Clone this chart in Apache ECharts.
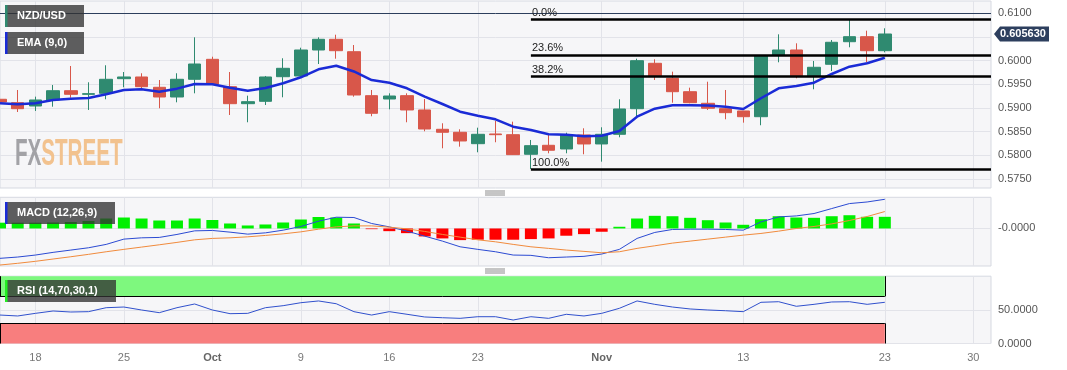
<!DOCTYPE html>
<html><head><meta charset="utf-8">
<script src="https://cdn.jsdelivr.net/npm/echarts@6/dist/echarts.min.js"></script>
<style>html,body{margin:0;padding:0;background:#fff}#c{width:1067px;height:370px}</style>
</head><body><div id="c"></div>
<script>
// ---- data ----
const dates = ['2023-09-14','2023-09-15','2023-09-18','2023-09-19','2023-09-20','2023-09-21','2023-09-22','2023-09-25','2023-09-26','2023-09-27','2023-09-28','2023-09-29',
'2023-10-02','2023-10-03','2023-10-04','2023-10-05','2023-10-06','2023-10-09','2023-10-10','2023-10-11','2023-10-12','2023-10-13','2023-10-16','2023-10-17','2023-10-18','2023-10-19','2023-10-20','2023-10-23','2023-10-24','2023-10-25','2023-10-26','2023-10-27','2023-10-30','2023-10-31',
'2023-11-01','2023-11-02','2023-11-03','2023-11-06','2023-11-07','2023-11-08','2023-11-09','2023-11-10','2023-11-13','2023-11-14','2023-11-15','2023-11-16','2023-11-17','2023-11-20','2023-11-21','2023-11-22','2023-11-23','2023-11-24','2023-11-27','2023-11-28','2023-11-29','2023-11-30','2023-12-01'];
// [open, close, low, high]
const candles = [
[0.59184,0.59127,0.59085,0.59450],[0.59112,0.58985,0.58915,0.59380],[0.59042,0.59169,0.58937,0.59239],[0.59169,0.59365,0.59027,0.59486],
[0.59365,0.59289,0.59217,0.59887],[0.59289,0.59302,0.58958,0.59543],[0.59310,0.59606,0.59184,0.59902],[0.59619,0.59655,0.59437,0.59760],
[0.59655,0.59450,0.59395,0.59733],[0.59437,0.59232,0.58994,0.59591],[0.59232,0.59606,0.59120,0.59733],[0.59606,0.59929,0.59310,0.60493],
[0.60028,0.59500,0.59486,0.60083],[0.59450,0.59091,0.58852,0.59760],[0.59091,0.59133,0.58698,0.59260],[0.59141,0.59655,0.59063,0.59676],
[0.59661,0.59838,0.59226,0.60050],[0.59676,0.60225,0.59669,0.60273],[0.60225,0.60451,0.59929,0.60493],[0.60451,0.60210,0.60041,0.60548],
[0.60189,0.59274,0.59239,0.60330],[0.59260,0.58888,0.58825,0.59380],[0.59190,0.59253,0.58972,0.59310],[0.59260,0.58958,0.58698,0.59310],
[0.58958,0.58556,0.58508,0.59190],[0.58550,0.58487,0.58149,0.58677],[0.58487,0.58303,0.58183,0.58550],[0.58246,0.58444,0.58064,0.58584],
[0.58451,0.58436,0.58276,0.58725],[0.58436,0.58014,0.58007,0.58711],[0.58022,0.58204,0.57711,0.58324],[0.58212,0.58107,0.58043,0.58430],
[0.58134,0.58430,0.58043,0.58478],[0.58430,0.58240,0.58022,0.58571],[0.58240,0.58444,0.57866,0.58592],[0.58444,0.58979,0.58381,0.59184],
[0.58985,0.59999,0.58816,0.60041],[0.59944,0.59676,0.59591,0.60028],[0.59627,0.59344,0.59112,0.59767],[0.59344,0.59112,0.59099,0.59429],
[0.59099,0.58994,0.58958,0.59555],[0.58985,0.58901,0.58761,0.59380],[0.58937,0.58816,0.58690,0.58937],[0.58816,0.60105,0.58635,0.60105],
[0.60119,0.60225,0.59965,0.60556],[0.60225,0.59676,0.59627,0.60366],[0.59676,0.59860,0.59395,0.59993],[0.59923,0.60388,0.59781,0.60436],
[0.60400,0.60506,0.60282,0.60865],[0.60506,0.60210,0.59965,0.60633],[0.60210,0.60563,0.60176,0.60683]];
const ema9 = [0.59099,0.59078,0.59099,0.59169,0.59196,0.59211,0.59289,0.59380,0.59395,0.59344,
0.59408,0.59507,0.59500,0.59429,0.59365,0.59422,0.59522,0.59648,0.59817,0.59893,
0.59771,0.59591,0.59534,0.59416,0.59239,0.59084,0.58922,0.58837,0.58761,0.58605,
0.58535,0.58444,0.58436,0.58402,0.58415,0.58514,0.58816,0.58985,0.59057,0.59057,
0.59053,0.59027,0.58979,0.59205,0.59416,0.59465,0.59534,0.59718,0.59872,0.59944,0.60062];
const macdLine = [-0.0030,-0.00287,-0.00267,-0.0024,-0.00217,-0.00194,-0.0016,-0.00107,-0.00094,-0.0009,
-0.0006,-0.00024,-0.0002,-0.00037,-0.00057,-0.00044,-0.00017,0.0002,0.00073,0.00113,
0.0011,0.0005,0.00016,-0.00027,-0.00077,-0.00127,-0.00184,-0.0021,-0.00234,-0.00267,
-0.0027,-0.00294,-0.00287,-0.0028,-0.00257,-0.0021,-0.001,-0.0004,-0.0001,-0.00007,
-0.00007,-0.0001,-0.00017,0.00066,0.00116,0.00126,0.0015,0.002,0.0025,0.00266,0.00293];
const signalLine = [-0.00367,-0.0035,-0.0033,-0.00307,-0.00284,-0.0026,-0.00234,-0.0021,-0.00187,-0.00164,
-0.0014,-0.00114,-0.001,-0.00094,-0.00084,-0.0007,-0.00054,-0.00034,-0.00007,0.00016,
0.00026,0.00026,0.00013,-0.00004,-0.0003,-0.0006,-0.00087,-0.00114,-0.00134,-0.0016,
-0.00184,-0.002,-0.00217,-0.0023,-0.00244,-0.00234,-0.002,-0.00174,-0.00147,-0.00127,
-0.00107,-0.00087,-0.00067,-0.0005,-0.00027,0,0.0002,0.00046,0.0008,0.0012,0.0017];
const macdHist = [0.00058,0.00058,0.00058,0.0006,0.00065,0.00075,0.001,0.0011,0.001,0.0008,
0.0008,0.001,0.00085,0.0005,0.0003,0.0004,0.0006,0.0009,0.00115,0.0011,
0.0005,-0.00007,-0.00027,-0.00047,-0.0008,-0.001,-0.00117,-0.00113,-0.00113,-0.00113,
-0.00107,-0.001,-0.00073,-0.00057,-0.00033,0.00017,0.001,0.00127,0.00123,0.00107,
0.00083,0.0006,0.00037,0.00093,0.00123,0.0011,0.00107,0.00123,0.00133,0.00117,0.00117];
const rsi14 = [42.3,40.9,44.8,48.3,46.8,47.3,53.2,54.2,49.8,45.8,
53.2,58.7,49.8,44.3,44.8,53.2,56.2,60.6,63.2,59.1,
47.3,42.3,47.3,43.4,39.4,38.3,37.4,39.8,39.8,34.9,
39.8,37.4,43.4,40.9,44.8,52.3,63.2,58.2,54.2,51.3,
49.8,48.7,47.3,61.2,62.1,55.3,58.2,61.7,62.1,58.2,61.2];
const priceTicks = [0.575,0.580,0.585,0.590,0.595,0.600,0.605,0.610];
const macdTicks = [0];
const macdTickLabels = ['-0.0000'];
const rsiTicks = [0,50];
const xTickDates = ['2023-09-18','2023-09-25','2023-10-02','2023-10-09','2023-10-16','2023-10-23','2023-11-01','2023-11-13','2023-11-23','2023-11-30'];
const xTickLabels = ['18','25','Oct','9','16','23','Nov','13','23','30'];
const lastPrice = 0.60563;
const fibHigh = 0.60865, fibLow = 0.57711, fibStart = '2023-10-26';
const fibRatios = [0, 0.236, 0.382, 1];
const fibLabels = ['0.0%','23.6%','38.2%','100.0%'];
const rsiUpper = 70, rsiLower = 30;

// ---- chart ----
const UP = '#2f8a70', DOWN = '#d8574a';
const FONT = 'Liberation Sans, Arial, sans-serif';
const chart = echarts.init(document.getElementById('c'), null, {renderer: 'canvas'});
const gridBase = {left: 0, right: 76, show: true, backgroundColor: '#f6f6f8', borderColor: '#d6d9e1', borderWidth: 1};
const isTick = (i, v) => xTickDates.indexOf(v) >= 0;
function xAxisFor(gi, showLabels) {
  return {
    type: 'category', gridIndex: gi, data: dates, boundaryGap: false,
    axisLine: {show: false}, axisTick: {show: false},
    axisLabel: {
      show: showLabels, interval: isTick, color: '#777', fontSize: 11, margin: 9, fontFamily: FONT,
      formatter: v => { const t = xTickLabels[xTickDates.indexOf(v)]; return /[A-Za-z]/.test(t) ? '{b|' + t + '}' : t; },
      rich: {b: {fontWeight: 'bold', color: '#666', fontSize: 11, fontFamily: FONT}}
    },
    splitLine: {show: true, interval: isTick, lineStyle: {color: '#e2e3e9', width: 1}}
  };
}
function yAxisFor(gi, min, max, ticks, fmt) {
  return {
    type: 'value', gridIndex: gi, position: 'right', min, max, scale: true,
    axisLine: {show: false}, axisTick: {show: false, customValues: ticks},
    axisLabel: {customValues: ticks, formatter: fmt, color: '#555', fontSize: 11, margin: 7, fontFamily: FONT},
    splitLine: {show: true, lineStyle: {color: '#e2e3e9', width: 1}}
  };
}
const lastDate = dates[dates.length - 1];
const fibMarks = fibRatios.map((r, k) => {
  const lvl = fibHigh - (fibHigh - fibLow) * r;
  return [{coord: [fibStart, lvl], label: {formatter: fibLabels[k]}}, {coord: [lastDate, lvl]}];
});
const lastCandle = dates[candles.length - 1];
const firstDate = dates[0];
const seg = (x1, y1, x2, y2) => [{coord: [x1, y1]}, {coord: [x2, y2]}];

const option = {
  animation: false,
  grid: [
    Object.assign({top: 1, height: 187}, gridBase),
    Object.assign({top: 197.3, height: 68.7}, gridBase),
    Object.assign({top: 276.2, height: 67.3}, gridBase)
  ],
  xAxis: [xAxisFor(0, false), xAxisFor(1, false), xAxisFor(2, true)],
  yAxis: [
    yAxisFor(0, 0.573097, 0.612598, priceTicks, v => v.toFixed(4)),
    yAxisFor(1, -0.00377, 0.00313, macdTicks, v => { const k = macdTicks.indexOf(v); return k >= 0 ? macdTickLabels[k] : v.toFixed(4); }),
    yAxisFor(2, 0, 100, rsiTicks, v => v.toFixed(4))
  ],
  series: [
    {
      type: 'candlestick', xAxisIndex: 0, yAxisIndex: 0, data: candles, barWidth: 13, z: 2,
      itemStyle: {color: UP, color0: DOWN, borderColor: UP, borderColor0: DOWN, borderWidth: 1},
      markLine: {
        silent: true, symbol: 'none', animation: false,
        label: {position: 'insideStartTop', distance: [1, 1], color: '#222', fontSize: 11, fontFamily: FONT},
        lineStyle: {color: '#000', width: 2.5, type: 'solid'},
        data: [{yAxis: lastPrice, label: {show: false}, lineStyle: {color: '#2c3e5c', width: 1, type: 'solid'}}].concat(fibMarks)
      }
    },
    {type: 'line', xAxisIndex: 0, yAxisIndex: 0, data: ema9, showSymbol: false, z: 3,
      lineStyle: {color: '#1a2bd6', width: 2.5}, itemStyle: {color: '#1a2bd6'}},
    {type: 'bar', xAxisIndex: 1, yAxisIndex: 1, data: macdHist, barWidth: 12,
      itemStyle: {color: p => p.value >= 0 ? '#00f000' : '#ff0000'}},
    {type: 'line', xAxisIndex: 1, yAxisIndex: 1, data: macdLine, showSymbol: false,
      lineStyle: {color: '#2b4ad2', width: 1}, itemStyle: {color: '#2b4ad2'}},
    {type: 'line', xAxisIndex: 1, yAxisIndex: 1, data: signalLine, showSymbol: false,
      lineStyle: {color: '#f08a3c', width: 1}, itemStyle: {color: '#f08a3c'}},
    {type: 'line', xAxisIndex: 2, yAxisIndex: 2, data: rsi14, showSymbol: false, z: 3,
      lineStyle: {color: '#3050cc', width: 1}, itemStyle: {color: '#3050cc'},
      markArea: {
        silent: true,
        data: [
          [{xAxis: firstDate, yAxis: rsiUpper, itemStyle: {color: '#7ef87e'}}, {xAxis: lastCandle, yAxis: 100}],
          [{xAxis: firstDate, yAxis: 0, itemStyle: {color: '#f87e7e'}}, {xAxis: lastCandle, yAxis: rsiLower}]
        ]
      },
      markLine: {
        silent: true, symbol: 'none', animation: false, label: {show: false},
        lineStyle: {color: '#000', width: 1, type: 'solid'},
        data: [
          seg(firstDate, rsiUpper, lastCandle, rsiUpper), seg(lastCandle, rsiUpper, lastCandle, 100), seg(firstDate, rsiUpper, firstDate, 100),
          seg(firstDate, rsiLower, lastCandle, rsiLower), seg(lastCandle, 0, lastCandle, rsiLower), seg(firstDate, 0, firstDate, rsiLower)
        ]
      }}
  ]
};
chart.setOption(option);

function labelBox(x, y, w, barColor, text) {
  return {type: 'group', x, y, z: 100, children: [
    {type: 'rect', z: 100, shape: {x: 0, y: 0, width: w, height: 22}, style: {fill: 'rgba(50,50,50,0.78)'}},
    {type: 'rect', z: 101, shape: {x: 0, y: 0, width: 2.5, height: 22}, style: {fill: barColor}},
    {type: 'text', z: 102, x: 12, y: 11, style: {text, fill: '#fff', font: 'bold 11px ' + FONT, verticalAlign: 'middle'}}
  ]};
}
function handle(y) {
  return {type: 'group', x: 485, y, z: 100, children: [0.5, 2.5, 4.5].map(d => ({
    type: 'line', z: 100, shape: {x1: 0, y1: d, x2: 20, y2: d}, style: {stroke: '#8c8c8c', lineWidth: 1}}))};
}
const py = chart.convertToPixel({yAxisIndex: 0}, lastPrice);
const gRight = 1067 - 76;
chart.setOption({graphic: [
  {type: 'text', x: 15, y: 155.5, scaleX: 0.574, z: 1, silent: true,
    style: {text: 'FX', fill: '#a2a2a6', font: 'bold 36px ' + FONT, verticalAlign: 'middle'}},
  {type: 'text', x: 41.2, y: 155.5, scaleX: 0.574, z: 1, silent: true,
    style: {text: 'STREET', fill: '#f2c28e', font: 'bold 36px ' + FONT, verticalAlign: 'middle'}},
  labelBox(5, 5, 79, UP, 'NZD/USD'),
  labelBox(5, 32, 79, '#1a2bd6', 'EMA (9,0)'),
  labelBox(5, 202, 110, '#1a2bd6', 'MACD (12,26,9)'),
  labelBox(5, 280, 111, '#22ee22', 'RSI (14,70,30,1)'),
  handle(190.5), handle(268.5),
  {type: 'polygon', z: 100, shape: {points: [[gRight + 3, py], [gRight + 9, py - 7.5], [gRight + 58, py - 7.5], [gRight + 58, py + 7.5], [gRight + 9, py + 7.5]]},
    style: {fill: '#2d3f5e'}},
  {type: 'text', z: 101, x: gRight + 9, y: py, style: {text: lastPrice.toFixed(6), fill: '#fff', font: 'bold 11px ' + FONT, verticalAlign: 'middle'}}
]});
</script>
</body></html>
